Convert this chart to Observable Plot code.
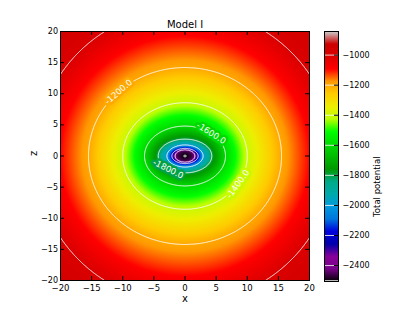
<!DOCTYPE html>
<html><head><meta charset="utf-8">
<script src="https://cdn.jsdelivr.net/npm/d3@7"></script>
<script src="https://cdn.jsdelivr.net/npm/@observablehq/plot@0.6"></script>
<style>
body{margin:0;background:#fff;}
#wrap{position:relative;width:415px;height:312px;font-family:"DejaVu Sans";}
#wrap svg{position:absolute;top:0;}
</style>
</head><body><div id="wrap"></div>
<script>
// ---- data ----
const title = "Model I";
const xLabel = "x";
const zLabel = "z";
const colorLabel = "Total potential";
// potential levels and the semi-axes (along x and along z) of their contours
const levels = [-2506, -2500, -2460, -2400, -2200, -2000, -1800, -1600, -1400, -1200, -1000, -950];
const semiX  = [0,     0.2,   1.2,   1.6,   2.1,   2.9,   4.3,   6.5,   10.0,  15.5,  24.0,  29.0];
const semiZ  = [0,     0.15,  0.75,  1.0,   1.2,   1.77,  2.7,   4.8,   8.55,  14.2,  23.7,  28.7];
const contourLevels = [-2500, -2400, -2200, -2000, -1800, -1600, -1400, -1200, -1000];
const labelLevels = [-1200, -1400, -1600, -1800];
const labelAngles = [136, -28, 41, -142];
const axisTicks = [-20, -15, -10, -5, 0, 5, 10, 15, 20];
const colorTicks = [-2400, -2200, -2000, -1800, -1600, -1400, -1200, -1000];
const colorDomain = [-2506, -843];

// ---- nipy_spectral colormap ----
const cmR = [0,.4667,.5333,0,0,0,0,0,0,0,0,0,0,.7333,.9333,1,1,1,.8667,.8,.8];
const cmG = [0,0,0,0,0,.4667,.6,.6667,.6667,.6,.7333,.8667,1,1,.9333,.8,.6,0,0,0,.8];
const cmB = [0,.5333,.6,.6667,.8667,.8667,.8667,.6667,.5333,0,0,0,0,0,0,0,0,0,0,0,.8];
function nipy(t) {
  t = Math.max(0, Math.min(1, t));
  const p = t * 20, i = Math.min(19, Math.floor(p)), f = p - i;
  const c = a => Math.round(255 * (a[i] + (a[i + 1] - a[i]) * f));
  return `rgb(${c(cmR)},${c(cmG)},${c(cmB)})`;
}

function contourRadius(k, c, s) {
  return 1 / Math.sqrt((c * c) / (semiX[k] ** 2) + (s * s) / (semiZ[k] ** 2));
}
function potential(x, z) {
  const r = Math.hypot(x, z);
  if (r === 0) return levels[0];
  const c = x / r, s = z / r;
  let pr = 0, pv = levels[0];
  for (let k = 1; k < levels.length; k++) {
    const rk = contourRadius(k, c, s);
    if (r <= rk) return pv + (levels[k] - pv) * (r - pr) / (rk - pr);
    pr = rk; pv = levels[k];
  }
  return levels[levels.length - 1];
}

const labels = labelLevels.map((lv, i) => {
  const k = levels.indexOf(lv);
  const th = labelAngles[i] * Math.PI / 180;
  const c = Math.cos(th), s = Math.sin(th);
  const r = contourRadius(k, c, s);
  const x = r * c, z = r * s;
  const tx = -z / semiZ[k] ** 2, tz = x / semiX[k] ** 2;
  let ang = Math.atan2(-tz, tx) * 180 / Math.PI;
  if (ang > 90) ang -= 180;
  if (ang < -90) ang += 180;
  return {x, z, text: lv.toFixed(1), rot: ang, v: potential(x, z)};
});

const colorOpt = {type: "linear", domain: colorDomain, interpolate: nipy};
const ext = {x1: -20, x2: 20, y1: -20, y2: 20};
const minusFmt = d => (d < 0 ? "\u2212" : "") + Math.abs(d);

const main = Plot.plot({
  width: 415, height: 312,
  marginLeft: 60, marginRight: 106, marginTop: 31, marginBottom: 32,
  x: {domain: [-20, 20]},
  y: {domain: [-20, 20]},
  color: colorOpt,
  style: {fontFamily: "DejaVu Sans", fontSize: "8px", color: "black", background: "transparent", overflow: "visible"},
  marks: [
    Plot.raster({...ext, fill: potential, pixelSize: 1, imageRendering: "auto"}),
    Plot.contour({...ext, value: potential, thresholds: contourLevels, pixelSize: 0.5, stroke: "white", strokeWidth: 1, fill: "none"}),
    Plot.text(labels, {x: "x", y: "z", text: "text", rotate: "rot", fill: "white", stroke: "v", strokeWidth: 5, fontSize: 8.5}),
    Plot.frame({stroke: "black", strokeWidth: 1}),
    Plot.tickX(axisTicks, {x: d => d, insetTop: 245, stroke: "black"}),
    Plot.tickX(axisTicks, {x: d => d, insetBottom: 245, stroke: "black"}),
    Plot.tickY(axisTicks, {y: d => d, insetRight: 245, stroke: "black"}),
    Plot.tickY(axisTicks, {y: d => d, insetLeft: 245, stroke: "black"}),
    Plot.axisX(axisTicks, {anchor: "bottom", tickSize: 0, tickPadding: 4, label: null, fontSize: 8.5, tickFormat: minusFmt}),
    Plot.axisY(axisTicks, {anchor: "left", tickSize: 0, tickPadding: 2.5, label: null, fontSize: 8, tickFormat: minusFmt}),
    Plot.text([title], {frameAnchor: "top", lineAnchor: "bottom", dy: -4, fontSize: 10}),
    Plot.text([xLabel], {frameAnchor: "bottom", lineAnchor: "top", dy: 14, fontSize: 10}),
    Plot.text([zLabel], {frameAnchor: "left", dx: -27, rotate: -90, fontSize: 10})
  ]
});

const cbar = Plot.plot({
  width: 91, height: 312,
  marginLeft: 0, marginRight: 77, marginTop: 31, marginBottom: 31,
  x: {domain: [0, 1], axis: null},
  y: {domain: colorDomain, axis: null},
  color: colorOpt,
  style: {fontFamily: "DejaVu Sans", fontSize: "8px", color: "black", background: "transparent", overflow: "visible"},
  marks: [
    Plot.raster({x1: 0, x2: 1, y1: colorDomain[0], y2: colorDomain[1], fill: (x, y) => y, pixelSize: 1}),
    Plot.ruleY(contourLevels, {y: d => d, stroke: "white", strokeWidth: 1, strokeOpacity: 0.8}),
    Plot.frame({stroke: "black"}),
    Plot.tickY(colorTicks, {y: d => d, insetLeft: 10, stroke: "black"}),
    Plot.axisY(colorTicks, {anchor: "right", tickSize: 0, tickPadding: 4, label: null, fontSize: 8, tickFormat: minusFmt}),
    Plot.text([colorLabel], {frameAnchor: "right", dx: 39, rotate: -90, fontSize: 8.5})
  ]
});

const wrap = document.getElementById("wrap");
main.style.left = "0px";
cbar.style.left = "324px";
wrap.appendChild(main);
wrap.appendChild(cbar);
</script>
</body></html>
